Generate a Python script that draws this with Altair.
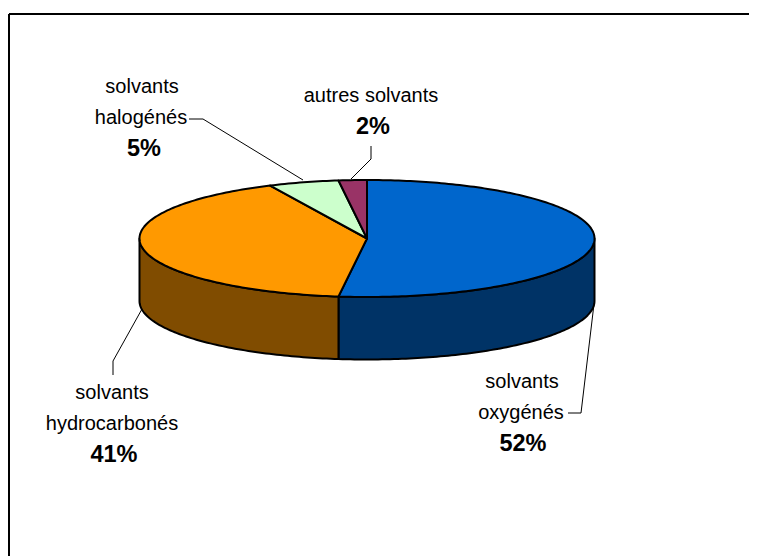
import math
import altair as alt
import pandas as pd

# Data
categories = ["solvants oxygénés", "solvants hydrocarbonés", "solvants halogénés", "autres solvants"]
shares = [52, 41, 5, 2]
top_colors = ["#0066CC", "#FF9900", "#CCFFCC", "#993366"]
side_colors = ["#003366", "#804C00", "#668066", "#4D1933"]

W, H = 741, 548
CX, CY, RX, RY, DEPTH = 359, 230.5, 227.5, 58.5, 62.5


def pt(t, dy=0.0):
    r = math.radians(t)
    return (CX + RX * math.sin(r), CY - RY * math.cos(r) + dy)


def arc(a, b):
    n = max(2, int(abs(b - a)) + 1)
    return [a + (b - a) * i / (n - 1) for i in range(n)]


tops, sides = [], []
start = 0.0
for name, share, tc, sc in zip(categories, shares, top_colors, side_colors):
    end = start + share * 3.6
    pts = [(CX, CY)] + [pt(t) for t in arc(start, end)]
    tops.append((name, tc, pts))
    a, b = max(start, 90), min(end, 270)
    if b > a:
        wall = [pt(t) for t in arc(a, b)] + [pt(t, DEPTH) for t in arc(b, a)]
        sides.append((name, sc, wall))
    start = end

x_scale = alt.Scale(domain=[0, W], range=[0, W], nice=False, zero=False)
y_scale = alt.Scale(domain=[0, H], range=[0, H], nice=False, zero=False)
X = alt.X("x:Q", scale=x_scale, axis=None)
Y = alt.Y("y:Q", scale=y_scale, axis=None)


def frame(points):
    return pd.DataFrame([{"x": p[0], "y": p[1], "i": i} for i, p in enumerate(points)])


layers = []
for name, col, pts in sides + tops:
    layers.append(
        alt.Chart(frame(pts)).mark_line(
            fill=col, stroke="black", strokeWidth=2, interpolate="linear-closed", strokeJoin="round"
        ).encode(x=X, y=Y, order="i:Q")
    )

# Outer chart border (top and left edges only are visible)
for pts in ([(1, 6), (W, 6)], [(1, 6), (1, H)]):
    layers.append(
        alt.Chart(frame(pts)).mark_line(stroke="black", strokeWidth=2).encode(x=X, y=Y, order="i:Q")
    )

# Leader lines (page pixel positions less the 8px margin)
leaders = [
    [(181, 111), (195, 111), (295, 172)],
    [(363, 138), (363, 151), (343, 171)],
    [(105, 367), (105, 353), (134, 301)],
    [(560, 405), (573, 405), (586, 296)],
]
for pts in leaders:
    layers.append(
        alt.Chart(frame(pts)).mark_line(stroke="black", strokeWidth=1).encode(x=X, y=Y, order="i:Q")
    )

label_text = ["solvants", "halogénés", "autres solvants", "solvants", "hydrocarbonés", "solvants", "oxygénés"]
label_x = [134, 133, 363, 104, 104, 514, 513]
label_y = [85, 116, 94, 391, 422, 380, 411]
value_text = ["5%", "2%", "41%", "52%"]
value_x = [136, 365, 106, 515]
value_y = [148, 126, 454, 443]

layers.append(
    alt.Chart(pd.DataFrame({"x": label_x, "y": label_y, "t": label_text}))
    .mark_text(font="Liberation Sans", fontSize=20, align="center", baseline="alphabetic", color="black")
    .encode(x=X, y=Y, text="t:N")
)
layers.append(
    alt.Chart(pd.DataFrame({"x": value_x, "y": value_y, "t": value_text}))
    .mark_text(font="Liberation Sans", fontSize=23.5, fontWeight="bold", align="center", baseline="alphabetic", color="black")
    .encode(x=X, y=Y, text="t:N")
)

chart = (
    alt.layer(*layers)
    .properties(width=W, height=H, padding=0, background="white", autosize=alt.AutoSizeParams(type="none"))
    .configure_view(stroke=None)
)
chart.save("out.html", embed_options={"renderer": "svg", "actions": False})
